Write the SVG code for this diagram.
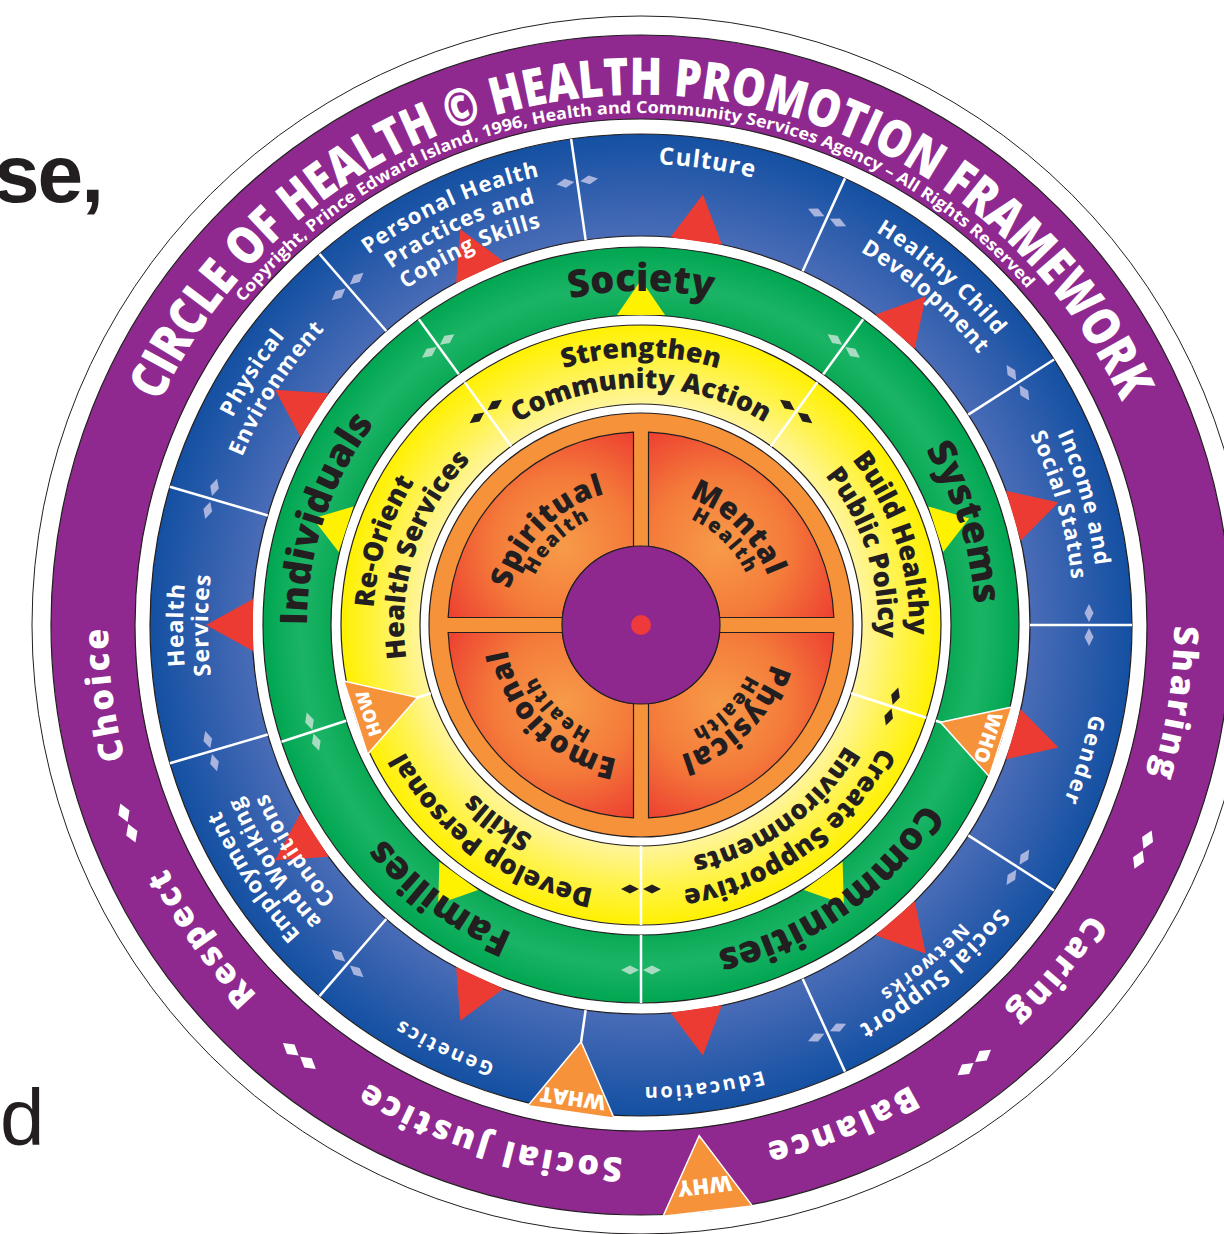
<svg xmlns="http://www.w3.org/2000/svg" width="1224" height="1234" viewBox="0 0 1224 1234">
<defs>
<style>
.ti{font-family:"Open Sans","Liberation Sans",sans-serif;font-weight:800;fill:#fff;font-size:52px}
.cp{font-family:"Open Sans","Liberation Sans",sans-serif;font-weight:700;fill:#fff;font-size:16.5px}
.pw{font-family:"Open Sans","Liberation Sans",sans-serif;font-weight:800;fill:#fff;font-size:34px;letter-spacing:3px}
.bl{font-family:"Open Sans","Liberation Sans",sans-serif;font-weight:700;fill:#fff;font-size:22px;letter-spacing:1px}
.bs{font-family:"Open Sans","Liberation Sans",sans-serif;font-weight:700;fill:#fff;font-size:20px;letter-spacing:2.5px}
.gr{font-family:"Open Sans","Liberation Sans",sans-serif;font-weight:800;fill:#231f20;font-size:38px}
.ye{font-family:"Open Sans","Liberation Sans",sans-serif;font-weight:800;fill:#231f20;font-size:27px}
.ib{font-family:"Open Sans","Liberation Sans",sans-serif;font-weight:800;fill:#231f20;font-size:30px;letter-spacing:1px}
.is{font-family:"Open Sans","Liberation Sans",sans-serif;font-weight:800;fill:#231f20;font-size:20px;letter-spacing:2px}
.tw{font-family:"Open Sans","Liberation Sans",sans-serif;font-weight:800;fill:#fff}
.ring{stroke:#231f20;stroke-width:1.2}
.gap{fill:#fff;stroke:#231f20;stroke-width:1.2}
.div{stroke:#fff;stroke-width:2.5}
.red{fill:#ec3b32}
.yel{fill:#fff200}
.org{fill:#f6923a;stroke:#fff;stroke-width:1.5}
.dB{fill:#a9b4de}
.dG{fill:#a8dcc0}
.dK{fill:#231f20}
.dW{fill:#fff}
</style>
<radialGradient id="gBlue" gradientUnits="userSpaceOnUse" cx="641" cy="625" r="491">
<stop offset="0.79" stop-color="#4a6cb7"/><stop offset="1" stop-color="#1450a2"/>
</radialGradient>
<radialGradient id="gGreen" gradientUnits="userSpaceOnUse" cx="641" cy="625" r="378">
<stop offset="0.82" stop-color="#0aa955"/><stop offset="0.9" stop-color="#1bb466"/><stop offset="1" stop-color="#00a651"/>
</radialGradient>
<radialGradient id="gYel" gradientUnits="userSpaceOnUse" cx="641" cy="625" r="300">
<stop offset="0.74" stop-color="#fff59a"/><stop offset="0.86" stop-color="#fff34f"/><stop offset="1" stop-color="#fff100"/>
</radialGradient>
<radialGradient id="gPan" gradientUnits="userSpaceOnUse" cx="719" cy="547" r="140">
<stop offset="0" stop-color="#f79b48"/><stop offset="0.5" stop-color="#f47a3a"/><stop offset="1" stop-color="#ec3a30"/>
</radialGradient>
<path id="dia" d="M-9,0 L0,-4.5 L9,0 L0,4.5Z"/>
<path id="dia2" d="M-10,0 L0,-6 L10,0 L0,6Z"/>
<path id="r530" d="M641,1155 A530,530 0 0 1 641,95 A530,530 0 0 1 641,1155"/>
<path id="r512" d="M641,1137 A512,512 0 0 1 641,113 A512,512 0 0 1 641,1137"/>
<path id="r533" d="M641,1158 A533,533 0 0 1 641,92 A533,533 0 0 1 641,1158"/>
<path id="r462" d="M641,1087 A462,462 0 0 1 641,163 A462,462 0 0 1 641,1087"/>
<path id="r461" d="M641,1086 A461,461 0 0 1 641,164 A461,461 0 0 1 641,1086"/>
<path id="r460" d="M641,1085 A460,460 0 0 1 641,165 A460,460 0 0 1 641,1085"/>
<path id="r458" d="M641,1083 A458,458 0 0 1 641,167 A458,458 0 0 1 641,1083"/>
<path id="r456" d="M641,1081 A456,456 0 0 1 641,169 A456,456 0 0 1 641,1081"/>
<path id="r437" d="M641,1062 A437,437 0 0 1 641,188 A437,437 0 0 1 641,1062"/>
<path id="r435" d="M641,1060 A435,435 0 0 1 641,190 A435,435 0 0 1 641,1060"/>
<path id="r433" d="M641,1058 A433,433 0 0 1 641,192 A433,433 0 0 1 641,1058"/>
<path id="r410" d="M641,1035 A410,410 0 0 1 641,215 A410,410 0 0 1 641,1035"/>
<path id="r334" d="M641,959 A334,334 0 0 1 641,291 A334,334 0 0 1 641,959"/>
<path id="r268" d="M641,893 A268,268 0 0 1 641,357 A268,268 0 0 1 641,893"/>
<path id="r237" d="M641,862 A237,237 0 0 1 641,388 A237,237 0 0 1 641,862"/>
<path id="r136" d="M641,761 A136,136 0 0 1 641,489 A136,136 0 0 1 641,761"/>
<path id="r117" d="M641,742 A117,117 0 0 1 641,508 A117,117 0 0 1 641,742"/>
</defs>

<rect width="1224" height="1234" fill="#fff"/>
<text x="-6" y="202" font-family="Liberation Sans, Arial, sans-serif" font-weight="700" font-size="82" fill="#231f20" letter-spacing="-2">se,</text>
<text x="0" y="1145" font-family="Liberation Sans, Arial, sans-serif" font-size="80" fill="#231f20">d</text>

<g id="rings">
<circle cx="641" cy="625" r="609" fill="#fff" stroke="#231f20" stroke-width="1"/>
<circle id="ring-values" cx="641" cy="625" r="590" fill="#8f2990" class="ring"/>
<circle cx="641" cy="625" r="506" class="gap"/>
<circle id="ring-determinants" cx="641" cy="625" r="491" fill="url(#gBlue)" class="ring"/>
<circle cx="641" cy="625" r="389" class="gap"/>
<circle id="ring-levels" cx="641" cy="625" r="378" fill="url(#gGreen)" class="ring"/>
<circle cx="641" cy="625" r="310" class="gap"/>
<circle id="ring-strategies" cx="641" cy="625" r="300" fill="url(#gYel)" class="ring"/>
<circle cx="641" cy="625" r="221" class="gap"/>
<circle id="ring-core" cx="641" cy="625" r="212" fill="#f6923a" class="ring"/>
</g>

<g id="quadrants" stroke="#231f20" stroke-width="1.2" fill="url(#gPan)">
<path id="q-mental" d="M648.5,432.15 A193,193 0 0 1 833.85,617.5 L719.64,617.5 A79,79 0 0 0 648.5,546.36 Z"/>
<path id="q-physical" d="M648.5,432.15 A193,193 0 0 1 833.85,617.5 L719.64,617.5 A79,79 0 0 0 648.5,546.36 Z" transform="rotate(90 641 625)"/>
<path id="q-emotional" d="M648.5,432.15 A193,193 0 0 1 833.85,617.5 L719.64,617.5 A79,79 0 0 0 648.5,546.36 Z" transform="rotate(180 641 625)"/>
<path id="q-spiritual" d="M648.5,432.15 A193,193 0 0 1 833.85,617.5 L719.64,617.5 A79,79 0 0 0 648.5,546.36 Z" transform="rotate(270 641 625)"/>
</g>
<g id="center">
<circle cx="641" cy="625" r="79" fill="#8e288f" stroke="#231f20" stroke-width="1.2"/>
<circle cx="641" cy="625" r="10" fill="#ee3a3a"/>
</g>

<g id="connectors">
<g class="div">
<line x1="641" y1="236" x2="641" y2="134" transform="rotate(90 641 625)"/>
<line x1="641" y1="236" x2="641" y2="134" transform="rotate(122.73 641 625)"/>
<line x1="641" y1="236" x2="641" y2="134" transform="rotate(155.45 641 625)"/>
<line x1="641" y1="236" x2="641" y2="204" transform="rotate(188.18 641 625)"/>
<line x1="641" y1="236" x2="641" y2="134" transform="rotate(220.91 641 625)"/>
<line x1="641" y1="236" x2="641" y2="134" transform="rotate(253.64 641 625)"/>
<line x1="641" y1="236" x2="641" y2="134" transform="rotate(286.36 641 625)"/>
<line x1="641" y1="236" x2="641" y2="134" transform="rotate(319.09 641 625)"/>
<line x1="641" y1="236" x2="641" y2="134" transform="rotate(351.82 641 625)"/>
<line x1="641" y1="236" x2="641" y2="134" transform="rotate(24.55 641 625)"/>
<line x1="641" y1="236" x2="641" y2="134" transform="rotate(57.27 641 625)"/>
<line x1="641" y1="315" x2="641" y2="247" transform="rotate(36 641 625)"/>
<line x1="641" y1="315" x2="641" y2="247" transform="rotate(108 641 625)"/>
<line x1="641" y1="315" x2="641" y2="247" transform="rotate(180 641 625)"/>
<line x1="641" y1="315" x2="641" y2="247" transform="rotate(252 641 625)"/>
<line x1="641" y1="315" x2="641" y2="247" transform="rotate(324 641 625)"/>
<line x1="641" y1="404" x2="641" y2="325" transform="rotate(36 641 625)"/>
<line x1="641" y1="404" x2="641" y2="325" transform="rotate(108 641 625)"/>
<line x1="641" y1="404" x2="641" y2="325" transform="rotate(180 641 625)"/>
<line x1="641" y1="404" x2="641" y2="325" transform="rotate(252 641 625)"/>
<line x1="641" y1="404" x2="641" y2="325" transform="rotate(324 641 625)"/>
</g>
</g>

<g id="markers">
<g class="red">
<polygon points="641,190 615,237 667,237" transform="rotate(8.18 641 625)"/>
<polygon points="641,190 615,237 667,237" transform="rotate(40.91 641 625)"/>
<polygon points="641,190 615,237 667,237" transform="rotate(73.64 641 625)"/>
<polygon points="641,190 615,237 667,237" transform="rotate(106.36 641 625)"/>
<polygon points="641,190 615,237 667,237" transform="rotate(139.09 641 625)"/>
<polygon points="641,190 615,237 667,237" transform="rotate(171.82 641 625)"/>
<polygon points="641,190 615,237 667,237" transform="rotate(204.55 641 625)"/>
<polygon points="641,190 615,237 667,237" transform="rotate(237.27 641 625)"/>
<polygon points="641,190 615,237 667,237" transform="rotate(270 641 625)"/>
<polygon points="641,190 615,237 667,237" transform="rotate(302.73 641 625)"/>
<polygon points="641,190 615,237 667,237" transform="rotate(335.45 641 625)"/>
</g>
<g class="yel">
<polygon points="641,280 617,315 665,315"/>
<polygon points="641,280 617,315 665,315" transform="rotate(72 641 625)"/>
<polygon points="641,280 617,315 665,315" transform="rotate(144 641 625)"/>
<polygon points="641,280 617,315 665,315" transform="rotate(216 641 625)"/>
<polygon points="641,280 617,315 665,315" transform="rotate(288 641 625)"/>
</g>
<g class="dB">
<use href="#dia" transform="rotate(90 641 625) translate(629 177)"/><use href="#dia" transform="rotate(90 641 625) translate(653 177)"/>
<use href="#dia" transform="rotate(122.73 641 625) translate(629 177)"/><use href="#dia" transform="rotate(122.73 641 625) translate(653 177)"/>
<use href="#dia" transform="rotate(155.45 641 625) translate(629 177)"/><use href="#dia" transform="rotate(155.45 641 625) translate(653 177)"/>
<use href="#dia" transform="rotate(220.91 641 625) translate(629 177)"/><use href="#dia" transform="rotate(220.91 641 625) translate(653 177)"/>
<use href="#dia" transform="rotate(253.64 641 625) translate(629 177)"/><use href="#dia" transform="rotate(253.64 641 625) translate(653 177)"/>
<use href="#dia" transform="rotate(286.36 641 625) translate(629 177)"/><use href="#dia" transform="rotate(286.36 641 625) translate(653 177)"/>
<use href="#dia" transform="rotate(319.09 641 625) translate(629 177)"/><use href="#dia" transform="rotate(319.09 641 625) translate(653 177)"/>
<use href="#dia" transform="rotate(351.82 641 625) translate(629 177)"/><use href="#dia" transform="rotate(351.82 641 625) translate(653 177)"/>
<use href="#dia" transform="rotate(24.55 641 625) translate(629 177)"/><use href="#dia" transform="rotate(24.55 641 625) translate(653 177)"/>
<use href="#dia" transform="rotate(57.27 641 625) translate(629 177)"/><use href="#dia" transform="rotate(57.27 641 625) translate(653 177)"/>
</g>
<g class="dG">
<use href="#dia" transform="rotate(36 641 625) translate(630 280)"/><use href="#dia" transform="rotate(36 641 625) translate(652 280)"/>
<use href="#dia" transform="rotate(180 641 625) translate(630 280)"/><use href="#dia" transform="rotate(180 641 625) translate(652 280)"/>
<use href="#dia" transform="rotate(252 641 625) translate(630 280)"/><use href="#dia" transform="rotate(252 641 625) translate(652 280)"/>
<use href="#dia" transform="rotate(324 641 625) translate(630 280)"/><use href="#dia" transform="rotate(324 641 625) translate(652 280)"/>
</g>
<g class="dK">
<use href="#dia" transform="rotate(36 641 625) translate(630 361)"/><use href="#dia" transform="rotate(36 641 625) translate(652 361)"/>
<use href="#dia" transform="rotate(108 641 625) translate(630 361)"/><use href="#dia" transform="rotate(108 641 625) translate(652 361)"/>
<use href="#dia" transform="rotate(180 641 625) translate(630 361)"/><use href="#dia" transform="rotate(180 641 625) translate(652 361)"/>
<use href="#dia" transform="rotate(324 641 625) translate(630 361)"/><use href="#dia" transform="rotate(324 641 625) translate(652 361)"/>
</g>
<g class="dW">
<use href="#dia2" transform="rotate(248.9 641 625) translate(630 75)"/><use href="#dia2" transform="rotate(248.9 641 625) translate(652 75)"/>
<use href="#dia2" transform="rotate(218.4 641 625) translate(630 75)"/><use href="#dia2" transform="rotate(218.4 641 625) translate(652 75)"/>
<use href="#dia2" transform="rotate(142.7 641 625) translate(630 75)"/><use href="#dia2" transform="rotate(142.7 641 625) translate(652 75)"/>
<use href="#dia2" transform="rotate(114.1 641 625) translate(630 75)"/><use href="#dia2" transform="rotate(114.1 641 625) translate(652 75)"/>
</g>
</g>

<g id="node-who" transform="rotate(108 641 625)">
<polygon class="org" points="641,310 604.5,247 677.5,247"/>
<text class="tw" x="641" y="267" font-size="20" text-anchor="middle">WHO</text>
</g>
<g id="node-how" transform="rotate(252 641 625)">
<polygon class="org" points="641,390 602.5,325 679.5,325"/>
<text class="tw" x="641" y="345" font-size="18" text-anchor="middle">HOW</text>
</g>
<g id="node-what" transform="rotate(188.18 641 625)">
<polygon class="org" points="641,204 597.5,133 684.5,133"/>
<text class="tw" x="641" y="154" font-size="21" text-anchor="middle">WHAT</text>
</g>
<g id="node-why" transform="rotate(173.5 641 625)">
<polygon class="org" points="641,111 596,35 686,35"/>
<text class="tw" x="641" y="68" font-size="22" text-anchor="middle">WHY</text>
</g>

<g id="node-title" text-anchor="middle">
<text class="ti"><textPath href="#r530" startOffset="50%" textLength="1205" lengthAdjust="spacingAndGlyphs">CIRCLE OF HEALTH © HEALTH PROMOTION FRAMEWORK</textPath></text>
<text class="cp" transform="rotate(-1 641 625)"><textPath href="#r512" startOffset="50%" textLength="893" lengthAdjust="spacingAndGlyphs">Copyright, Prince Edward Island, 1996, Health and Community Services Agency – All Rights Reserved</textPath></text>
</g>

<g id="values" text-anchor="middle">
<text id="node-choice" class="pw" transform="rotate(262.7 641 625)"><textPath href="#r533" startOffset="50%">Choice</textPath></text>
<text id="node-sharing" class="pw" transform="rotate(98.4 641 625)"><textPath href="#r533" startOffset="50%">Sharing</textPath></text>
<text id="node-caring" class="pw" transform="rotate(129.8 641 625)"><textPath href="#r533" startOffset="50%">Caring</textPath></text>
<text id="node-balance" class="pw" transform="rotate(158.2 641 625)"><textPath href="#r533" startOffset="50%">Balance</textPath></text>
<text id="node-socialjustice" class="pw" transform="rotate(196.6 641 625)"><textPath href="#r533" startOffset="50%">Social Justice</textPath></text>
<text id="node-respect" class="pw" transform="rotate(234.6 641 625)"><textPath href="#r533" startOffset="50%">Respect</textPath></text>
</g>

<g id="determinants" text-anchor="middle">
<g id="node-culture" transform="rotate(8.2 641 625)"><text class="bl" style="font-size:24px"><textPath href="#r461" startOffset="50%">Culture</textPath></text></g>
<g id="node-healthychild" transform="rotate(40.9 641 625)"><text class="bl"><textPath href="#r458" startOffset="50%">Healthy Child</textPath></text><text class="bl"><textPath href="#r433" startOffset="50%">Development</textPath></text></g>
<g id="node-income" transform="rotate(74 641 625)"><text class="bl"><textPath href="#r458" startOffset="50%">Income and</textPath></text><text class="bl"><textPath href="#r433" startOffset="50%">Social Status</textPath></text></g>
<g id="node-gender" transform="rotate(107 641 625)"><text class="bl" style="letter-spacing:2px"><textPath href="#r458" startOffset="50%">Gender</textPath></text></g>
<g id="node-socialsupport" transform="rotate(140 641 625)"><text class="bl" style="font-size:23px;letter-spacing:1.5px"><textPath href="#r456" startOffset="50%">Social Support</textPath></text><text class="bs" style="font-size:19px;letter-spacing:2px"><textPath href="#r437" startOffset="50%">Networks</textPath></text></g>
<g id="node-education" transform="rotate(172.3 641 625)"><text class="bs"><textPath href="#r462" startOffset="50%">Education</textPath></text></g>
<g id="node-genetics" transform="rotate(205 641 625)"><text class="bs"><textPath href="#r462" startOffset="50%">Genetics</textPath></text></g>
<g id="node-employment" transform="rotate(237 641 625)"><text class="bl"><textPath href="#r460" startOffset="50%">Employment</textPath></text><text class="bl"><textPath href="#r435" startOffset="50%">and Working</textPath></text><text class="bl"><textPath href="#r410" startOffset="50%">Conditions</textPath></text></g>
<g id="node-healthservices" transform="rotate(270 641 625)"><text class="bl" style="font-size:23px"><textPath href="#r458" startOffset="50%">Health</textPath></text><text class="bl" style="font-size:23px"><textPath href="#r433" startOffset="50%">Services</textPath></text></g>
<g id="node-physicalenv" transform="rotate(303 641 625)"><text class="bl"><textPath href="#r458" startOffset="50%">Physical</textPath></text><text class="bl"><textPath href="#r433" startOffset="50%">Environment</textPath></text></g>
<g id="node-personal" transform="rotate(335.5 641 625)"><text class="bl"><textPath href="#r460" startOffset="50%">Personal Health</textPath></text><text class="bl"><textPath href="#r435" startOffset="50%">Practices and</textPath></text><text class="bl"><textPath href="#r410" startOffset="50%">Coping Skills</textPath></text></g>
</g>

<g id="levels" text-anchor="middle">
<text id="node-society" class="gr"><textPath href="#r334" startOffset="50%">Society</textPath></text>
<text id="node-systems" class="gr" transform="rotate(72.4 641 625)"><textPath href="#r334" startOffset="50%">Systems</textPath></text>
<text id="node-communities" class="gr" transform="rotate(144.5 641 625)"><textPath href="#r334" startOffset="50%">Communities</textPath></text>
<text id="node-families" class="gr" transform="rotate(216.5 641 625)"><textPath href="#r334" startOffset="50%">Families</textPath></text>
<text id="node-individuals" class="gr" transform="rotate(288.5 641 625)"><textPath href="#r334" startOffset="50%">Individuals</textPath></text>
</g>

<g id="strategies" text-anchor="middle">
<g id="node-community-action"><text class="ye"><textPath href="#r268" startOffset="50%">Strengthen</textPath></text><text class="ye"><textPath href="#r237" startOffset="50%">Community Action</textPath></text></g>
<g id="node-public-policy" transform="rotate(72 641 625)"><text class="ye"><textPath href="#r268" startOffset="50%">Build Healthy</textPath></text><text class="ye"><textPath href="#r237" startOffset="50%">Public Policy</textPath></text></g>
<g id="node-supportive-env" transform="rotate(144 641 625)"><text class="ye"><textPath href="#r268" startOffset="50%">Create Supportive</textPath></text><text class="ye"><textPath href="#r237" startOffset="50%">Environments</textPath></text></g>
<g id="node-personal-skills" transform="rotate(216 641 625)"><text class="ye"><textPath href="#r268" startOffset="50%">Develop Personal</textPath></text><text class="ye"><textPath href="#r237" startOffset="50%">Skills</textPath></text></g>
<g id="node-reorient" transform="rotate(288 641 625)"><text class="ye"><textPath href="#r268" startOffset="50%">Re-Orient</textPath></text><text class="ye"><textPath href="#r237" startOffset="50%">Health Services</textPath></text></g>
</g>

<g id="health" text-anchor="middle">
<g id="node-spiritual" transform="rotate(315 641 625)"><text class="ib"><textPath href="#r136" startOffset="50%">Spiritual</textPath></text><text class="is"><textPath href="#r117" startOffset="50%">Health</textPath></text></g>
<g id="node-mental" transform="rotate(45 641 625)"><text class="ib"><textPath href="#r136" startOffset="50%">Mental</textPath></text><text class="is"><textPath href="#r117" startOffset="50%">Health</textPath></text></g>
<g id="node-physical" transform="rotate(135 641 625)"><text class="ib"><textPath href="#r136" startOffset="50%">Physical</textPath></text><text class="is"><textPath href="#r117" startOffset="50%">Health</textPath></text></g>
<g id="node-emotional" transform="rotate(225 641 625)"><text class="ib"><textPath href="#r136" startOffset="50%">Emotional</textPath></text><text class="is"><textPath href="#r117" startOffset="50%">Health</textPath></text></g>
</g>
</svg>
